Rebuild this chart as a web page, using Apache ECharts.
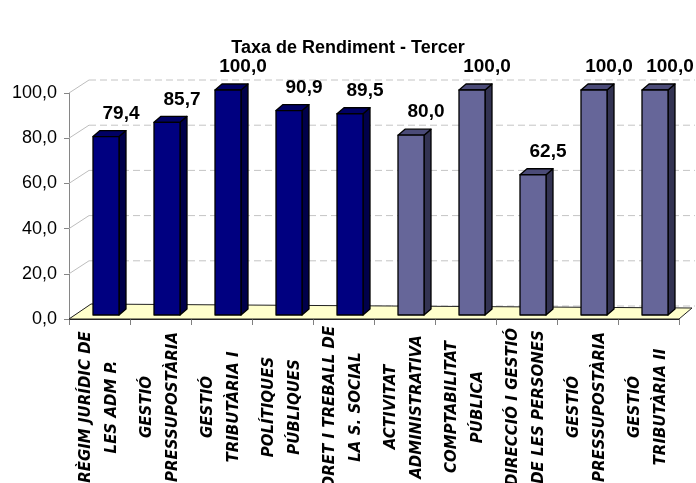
<!DOCTYPE html>
<html>
<head>
<meta charset="utf-8">
<script src="https://cdn.jsdelivr.net/npm/echarts@6/dist/echarts.min.js"></script>
<style>
  html, body { margin: 0; padding: 0; background: #fff; }
  #rendChart { width: 696px; height: 483px; }
</style>
</head>
<body>
<div id="rendChart"></div>
<script>
var categories = [
  'RÈGIM JURÍDIC DE\nLES ADM P.',
  'GESTIÓ\nPRESSUPOSTÀRIA',
  'GESTIÓ\nTRIBUTÀRIA I',
  'POLÍTIQUES\nPÚBLIQUES',
  'DRET I TREBALL DE\nLA S. SOCIAL',
  'ACTIVITAT\nADMINISTRATIVA',
  'COMPTABILITAT\nPÚBLICA',
  'DIRECCIÓ I GESTIÓ\nDE LES PERSONES',
  'GESTIÓ\nPRESSUPOSTÀRIA',
  'GESTIÓ\nTRIBUTÀRIA II'
];
var rates = [79.4, 85.7, 100.0, 90.9, 89.5, 80.0, 100.0, 62.5, 100.0, 100.0];
var groups = [0, 0, 0, 0, 0, 1, 1, 1, 1, 1];
var yTicks = [0, 20, 40, 60, 80, 100];

var palette = [
  { front: '#000080', side: '#00004a', top: '#000064' },
  { front: '#666699', side: '#333352', top: '#4b4b78' }
];

function fmt(v) {
  return v.toFixed(1).replace('.', ',');
}

var chart = echarts.init(document.getElementById('rendChart'));

// back wall dashed lines + little diagonals at the axis
function renderWall(params, api) {
  var cs = params.coordSys;
  var y = api.coord([0, api.value(1)])[1];
  var left = cs.x;
  var right = cs.x + cs.width;
  return {
    type: 'group',
    children: [{
      type: 'line',
      shape: { x1: left, y1: y, x2: left + 20, y2: y - 13 },
      style: { stroke: '#bdbdbd', lineWidth: 1 }
    }, {
      type: 'line',
      shape: { x1: left + 20, y1: y - 13, x2: right + 16, y2: y - 13 },
      style: { stroke: '#c4c4c4', lineWidth: 1, lineDash: [7, 4] }
    }]
  };
}

function renderFloor(params, api) {
  var cs = params.coordSys;
  var y = api.coord([0, 0])[1];
  var left = cs.x;
  var right = cs.x + cs.width;
  return {
    type: 'polygon',
    shape: { points: [[left, y], [right, y], [right + 13, y - 11], [left + 22, y - 15]] },
    style: { fill: '#ffffcc', stroke: '#222', lineWidth: 1 }
  };
}

function renderBar(params, api) {
  var i = api.value(0);
  var v = api.value(1);
  var c = palette[groups[i]];
  var base = api.coord([i, 0]);
  var top = api.coord([i, v]);
  var bw = 26, dx = 7, dy = 6, ox = 6.5, oy = -4;
  var x0 = base[0] - bw / 2 + ox;
  var x1 = x0 + bw;
  var yb = base[1] + oy;
  var yt = top[1] + oy + 1;
  var line = { stroke: '#000', lineWidth: 1.3, lineJoin: 'round' };
  return {
    type: 'group',
    children: [{
      type: 'polygon',
      shape: { points: [[x1, yb], [x1 + dx, yb - dy], [x1 + dx, yt - dy], [x1, yt]] },
      style: Object.assign({ fill: c.side }, line)
    }, {
      type: 'polygon',
      shape: { points: [[x0, yt], [x1, yt], [x1 + dx, yt - dy], [x0 + dx, yt - dy]] },
      style: Object.assign({ fill: c.top }, line)
    }, {
      type: 'rect',
      shape: { x: x0, y: yt, width: bw, height: yb - yt },
      style: Object.assign({ fill: c.front }, line)
    }, {
      type: 'text',
      x: (x0 + x1) / 2 + 15,
      y: yt - 23,
      style: {
        text: fmt(v),
        fill: '#000',
        font: 'bold 19px "Liberation Sans", Arial, sans-serif',
        textAlign: 'center',
        textVerticalAlign: 'middle'
      }
    }]
  };
}

var option = {
  animation: false,
  title: {
    text: 'Taxa de Rendiment - Tercer',
    left: 'center',
    top: 39,
    padding: 0,
    textStyle: {
      fontFamily: '"Liberation Sans", Arial, sans-serif',
      fontSize: 18,
      fontWeight: 'bold',
      color: '#000'
    }
  },
  grid: {
    left: 69,
    right: 17,
    top: 93,
    bottom: 164,
    outerBoundsMode: 'none'
  },
  xAxis: {
    type: 'category',
    data: categories.map(function(n, i) { return String(i); }),
    boundaryGap: true,
    axisLine: { show: true, lineStyle: { color: '#222', width: 1 } },
    axisTick: { show: true, interval: 0, length: 6, lineStyle: { color: '#808080' } },
    axisLabel: {
      interval: 0,
      rotate: 90,
      align: 'center',
      verticalAlign: 'middle',
      margin: 88,
      formatter: function(v, idx) { return categories[idx]; },
      fontFamily: '"DejaVu Sans", sans-serif',
      fontStyle: 'italic',
      fontWeight: 'bold',
      fontSize: 15,
      lineHeight: 26,
      color: '#000'
    },
    splitLine: { show: false }
  },
  yAxis: {
    type: 'value',
    min: 0,
    max: 100,
    interval: 20,
    axisLine: { show: true, lineStyle: { color: '#868686' } },
    axisTick: { show: true, length: 5, lineStyle: { color: '#868686' } },
    axisLabel: {
      margin: 12,
      formatter: fmt,
      fontFamily: '"Liberation Sans", Arial, sans-serif',
      fontSize: 18,
      color: '#000'
    },
    splitLine: { show: false }
  },
  series: [{
    type: 'custom',
    name: 'wall',
    z: 1,
    silent: true,
    clip: false,
    renderItem: renderWall,
    data: yTicks.map(function(t) { return [0, t]; })
  }, {
    type: 'custom',
    name: 'floor',
    z: 2,
    silent: true,
    clip: false,
    renderItem: renderFloor,
    data: [[0, 0]]
  }, {
    type: 'custom',
    name: 'Taxa de Rendiment',
    z: 3,
    clip: false,
    renderItem: renderBar,
    data: rates.map(function(v, i) { return [i, v]; })
  }]
};

chart.setOption(option);
</script>
</body>
</html>
